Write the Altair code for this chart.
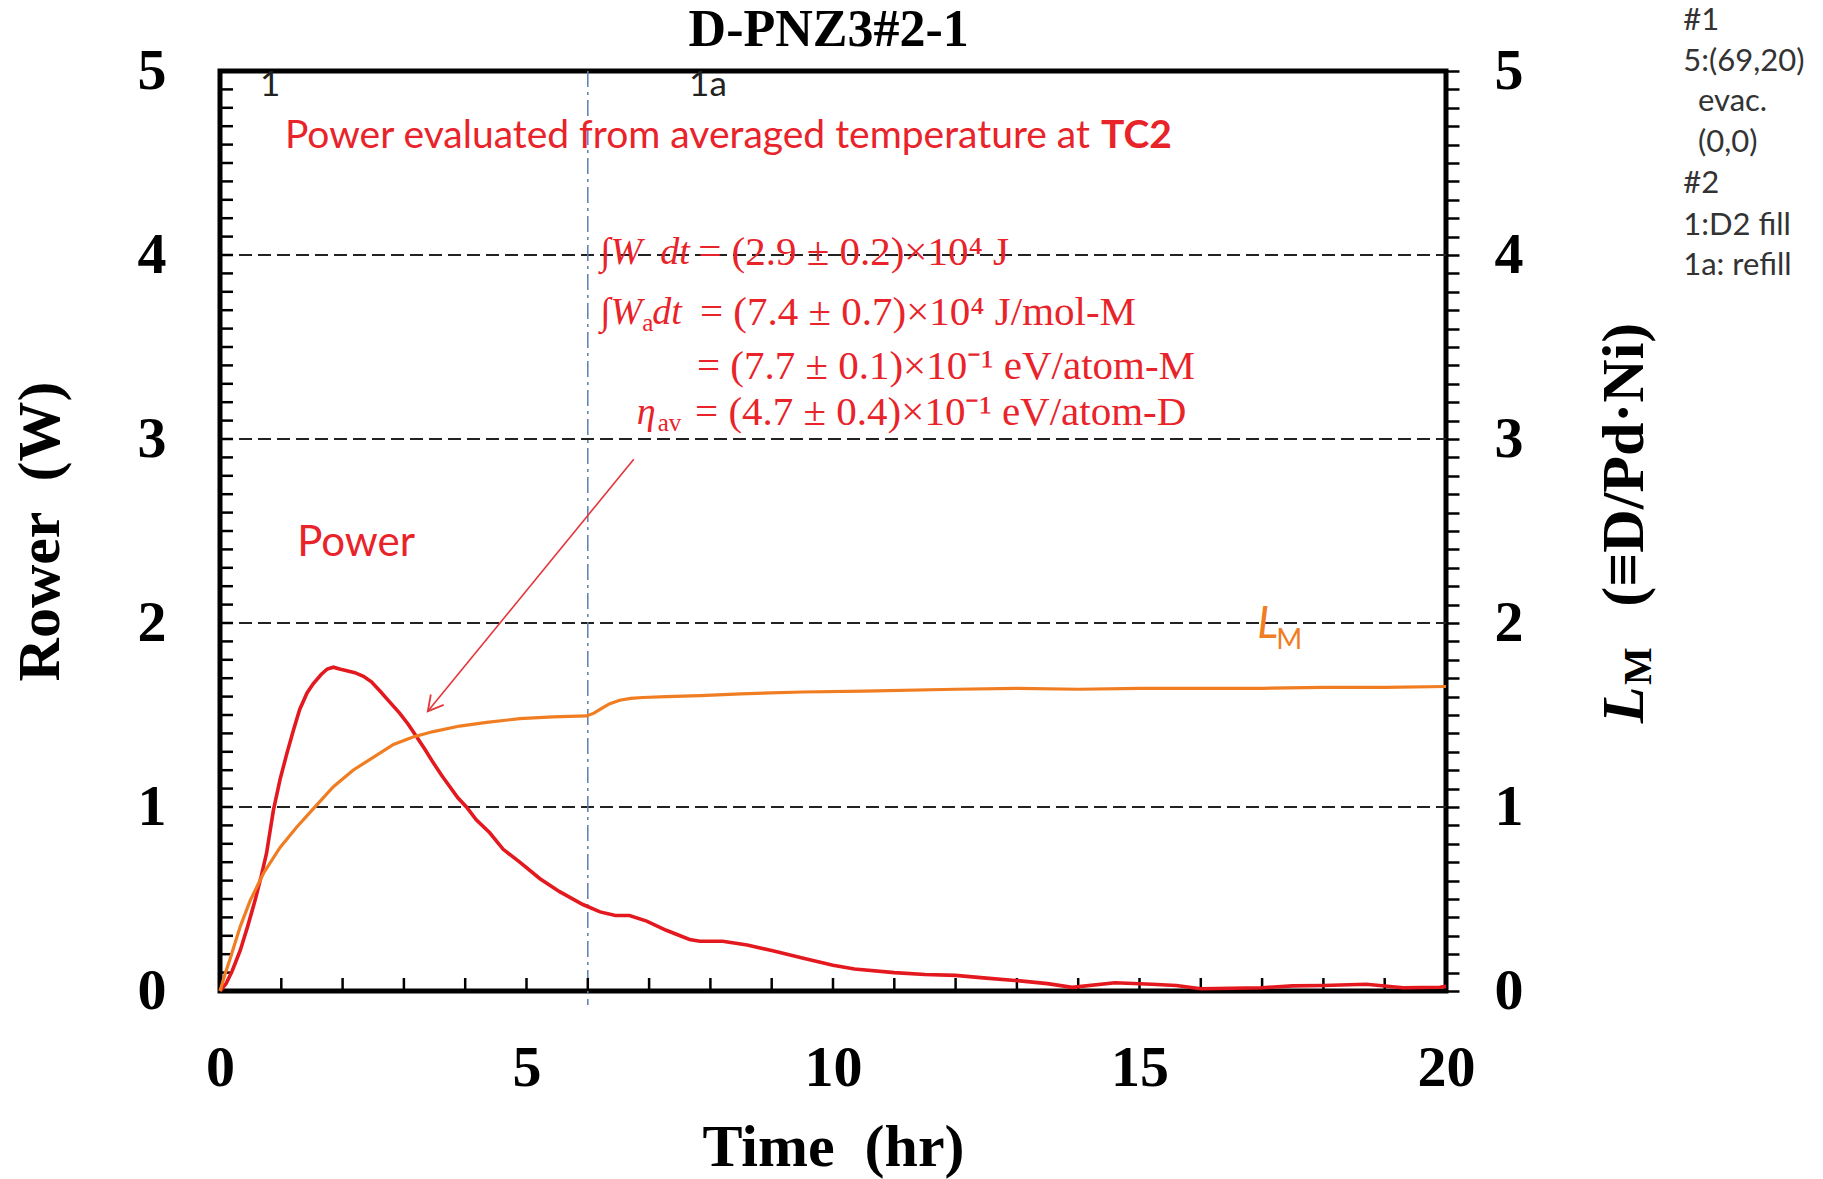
import altair as alt
import pandas as pd

# ---------------- layout ----------------
W, H = 1226, 920
PAD = {"left": 220, "top": 71, "right": 1823 - 220 - W, "bottom": 1179 - 71 - H}

RED = "#e3191f"
ORANGE = "#f07d22"
ARROW = "#e4363a"
TEXT_RED = "#e8232a"
DASHDOT = "#5f7fae"
SERIF = "Liberation Serif"
SANS = "Lato"

# ---------------- data ----------------
power_t = [0, 0.1, 0.2, 0.33, 0.45, 0.57, 0.67, 0.76, 0.87, 0.98, 1.09, 1.2, 1.3, 1.42,
           1.52, 1.65, 1.75, 1.85, 1.95, 2.07, 2.2, 2.34, 2.47, 2.61, 2.77, 2.93, 3.07,
           3.21, 3.35, 3.48, 3.62, 3.75, 3.88, 4.02, 4.18, 4.4, 4.62, 4.89, 5.22, 5.54,
           5.92, 6.2, 6.45, 6.68, 6.96, 7.28, 7.66, 7.83, 8.2, 8.6, 9.0, 9.5, 10.0, 10.35,
           11.0, 11.5, 12.0, 12.5, 13.05, 13.5, 13.9, 14.6, 15.2, 15.6, 16.0, 16.5, 17.0,
           17.5, 18.0, 18.7, 19.3, 19.9, 20.0]
power_w = [0, 0.04, 0.11, 0.22, 0.35, 0.49, 0.62, 0.75, 0.98, 1.15, 1.29, 1.42, 1.53, 1.62,
           1.67, 1.72, 1.75, 1.76, 1.75, 1.74, 1.73, 1.71, 1.68, 1.63, 1.57, 1.51, 1.45,
           1.38, 1.31, 1.24, 1.17, 1.11, 1.05, 1.0, 0.93, 0.86, 0.77, 0.70, 0.61, 0.54,
           0.47, 0.43, 0.41, 0.41, 0.38, 0.33, 0.28, 0.27, 0.27, 0.25, 0.22, 0.18, 0.14, 0.12,
           0.10, 0.09, 0.085, 0.07, 0.055, 0.04, 0.02, 0.045, 0.037, 0.03, 0.012, 0.015, 0.018,
           0.028, 0.03, 0.037, 0.018, 0.02, 0.025]

lm_t = [0, 0.08, 0.16, 0.33, 0.49, 0.71, 0.98, 1.25, 1.52, 1.85, 2.17, 2.5, 2.83, 3.15,
        3.48, 3.91, 4.35, 4.89, 5.43, 5.98, 6.1, 6.2, 6.35, 6.52, 6.7, 6.9, 7.28, 7.83,
        8.5, 9.5, 10.5, 12, 13, 14, 15, 16, 17, 18, 19, 20]
lm_v = [0, 0.09, 0.17, 0.35, 0.49, 0.64, 0.78, 0.89, 0.99, 1.11, 1.20, 1.27, 1.34, 1.38,
        1.41, 1.44, 1.46, 1.48, 1.49, 1.495, 1.51, 1.53, 1.56, 1.58, 1.59, 1.595, 1.60,
        1.605, 1.615, 1.625, 1.63, 1.64, 1.645, 1.64, 1.645, 1.645, 1.645, 1.65, 1.65, 1.655]

grid_levels = [1, 2, 3, 4]
event_time = [6.0]
x_label_values = [0, 5, 10, 15, 20]
y_label_values = [0, 1, 2, 3, 4, 5]
x_minor = list(range(1, 20))
y_minor = [round(i * 0.1, 1) for i in range(51)]

arrow_from = ([6.75], [2.89])
arrow_to = ([3.39], [1.52])

xscale = alt.Scale(domain=[0, 20], nice=False, zero=False)
yscale = alt.Scale(domain=[0, 5], nice=False, zero=False)

# one shared bottom axis, repeated in every layer that encodes x so the merge keeps it
xaxis = alt.Axis(
    values=x_label_values, ticks=False, tickSize=0, domain=False, grid=False,
    labelFont=SERIF, labelFontWeight="bold", labelFontSize=58, labelColor="black",
    labelPadding=94, labelBaseline="alphabetic", labelFlush=False, labelOverlap=False,
    format="d",
    title="Time\u00a0 (hr)", titleFont=SERIF, titleFontWeight="bold", titleFontSize=60,
    titleColor="black", titleX=W / 2, titleY=174, titleAlign="center",
    titleBaseline="alphabetic")


def X(field):
    return alt.X(field, type="quantitative", scale=xscale, axis=xaxis)


def texts(xs, ys, labels, **kw):
    df = pd.DataFrame({"x": xs, "y": ys, "s": labels})
    return alt.Chart(df).mark_text(**kw).encode(
        x=X("x"),
        y=alt.Y("y:Q", scale=yscale, axis=None),
        text="s:N",
    )


grid = alt.Chart(pd.DataFrame({"g": grid_levels})).mark_rule(
    color="#222222", strokeWidth=1.8, strokeDash=[13, 6]
).encode(y=alt.Y("g:Q", scale=yscale, axis=None), x=alt.value(0), x2=alt.value(W))

dashdot = alt.Chart(pd.DataFrame({"e": event_time})).mark_rule(
    color=DASHDOT, strokeWidth=1.5, strokeDash=[16, 5, 3, 5]
).encode(x=X("e"), y=alt.value(0), y2=alt.value(H + 14))

xticks = alt.Chart(pd.DataFrame({"tx": x_minor})).mark_rule(color="black", strokeWidth=2.5).encode(
    x=X("tx"), y=alt.value(H), y2=alt.value(H - 13)
)
yticks = alt.Chart(pd.DataFrame({"ty": y_minor})).mark_rule(color="black", strokeWidth=2.5).encode(
    y=alt.Y("ty:Q", scale=yscale, axis=None), x=alt.value(0), x2=alt.value(13)
)

power_line = alt.Chart(pd.DataFrame({"t": power_t, "P": power_w})).mark_line(
    color=RED, strokeWidth=3.6
).encode(
    x=X("t"),
    y=alt.Y("P:Q", scale=yscale, axis=alt.Axis(
        orient="left", values=y_label_values, ticks=False, tickSize=0, domain=False, grid=False,
        labelFont=SERIF, labelFontWeight="bold", labelFontSize=58, labelColor="black",
        labelPadding=54, labelFlush=False, labelOverlap=False, format="d",
        title="Rower\u00a0 (W)", titleFont=SERIF, titleFontWeight="bold", titleFontSize=60,
        titleColor="black", titleX=-162, titleY=H / 2, titleAngle=270, titleAlign="center",
        titleBaseline="alphabetic")),
)

lm_line = alt.Chart(pd.DataFrame({"t": lm_t, "L": lm_v})).mark_line(
    color=ORANGE, strokeWidth=3.2
).encode(
    x=X("t"),
    y=alt.Y("L:Q", scale=yscale, axis=alt.Axis(
        orient="right", values=y_minor, tickSize=13, tickWidth=2.5, tickColor="black",
        domain=False, grid=False, labelExpr="datum.value % 1 == 0 ? format(datum.value, 'd') : ''",
        labelFont=SERIF, labelFontWeight="bold", labelFontSize=58, labelColor="black",
        labelPadding=35, labelFlush=False, labelOverlap=False, title=None)),
)

arrow_df = pd.DataFrame({"x1": arrow_from[0], "y1": arrow_from[1], "x2": arrow_to[0], "y2": arrow_to[1]})
arrow = alt.Chart(arrow_df).mark_rule(color=ARROW, strokeWidth=1.6).encode(
    x=X("x1"), y=alt.Y("y1:Q", scale=yscale, axis=None),
    x2="x2:Q", y2="y2:Q",
)
head = alt.Chart(arrow_df).mark_point(
    shape="M -0.55 -1 L 0 0 L 0.55 -1", filled=False, color=ARROW, strokeWidth=1.8,
    size=900, angle=39, opacity=1,
).encode(x=X("x2"), y=alt.Y("y2:Q", scale=yscale, axis=None))

# ---------------- texts ----------------
title = texts([9.93], [5.136], ["D-PNZ3#2-1"], font=SERIF, fontWeight="bold", fontSize=52,
              color="black", align="center", baseline="alphabetic")
events = texts([0.82, 7.96], [4.924, 4.924], ["1", "1a"], font=SANS, fontSize=35,
               color="#222222", align="center", baseline="middle")
header = texts([1.06], [4.647], ["Power evaluated from averaged temperature at"], font=SANS,
               fontSize=39, color=TEXT_RED, align="left", baseline="middle")
header_b = texts([15.53], [4.647], ["TC2"], font=SANS, fontSize=39, fontWeight="bold",
                 color=TEXT_RED, align="right", baseline="middle")
power_lbl = texts([1.26], [2.435], ["Power"], font=SANS, fontSize=42, color=TEXT_RED,
                  align="left", baseline="middle")
lm_L = texts([16.92], [1.99], ["L"], font=SANS, fontSize=44, fontStyle="italic", color=ORANGE,
             align="left", baseline="middle")
lm_M = texts([17.23], [1.90], ["M"], font=SANS, fontSize=28, color=ORANGE, align="left",
             baseline="middle")

f_it = texts([6.20, 7.18, 6.20, 7.05, 6.80],
             [4.01, 4.01, 3.685, 3.685, 3.14],
             ["\u222bW", "dt", "\u222bW", "dt", "\u03b7"],
             font=SERIF, fontSize=38, fontStyle="italic", color=TEXT_RED, align="left",
             baseline="middle")
f_sub = texts([6.89, 7.14], [3.63, 3.085], ["a", "av"], font=SERIF, fontSize=25, color=TEXT_RED,
              align="left", baseline="middle")
f_main = texts([7.80, 7.83, 7.78, 7.75], [4.01, 3.685, 3.39, 3.14],
               ["= (2.9 \u00b1 0.2)\u00d710\u2074 J",
                "= (7.4 \u00b1 0.7)\u00d710\u2074 J/mol-M",
                "= (7.7 \u00b1 0.1)\u00d710\u207b\u00b9 eV/atom-M",
                "= (4.7 \u00b1 0.4)\u00d710\u207b\u00b9 eV/atom-D"],
               font=SERIF, fontSize=41, color=TEXT_RED, align="left", baseline="middle")

notes = texts([23.87, 23.87, 24.11, 24.11, 23.87, 23.87, 23.87],
              [5.272, 5.049, 4.832, 4.609, 4.386, 4.158, 3.940],
              ["#1", "5:(69,20)", "evac.", "(0,0)", "#2", "1:D2 fill", "1a: refill"],
              font=SANS, fontSize=31, color="#333333", align="left", baseline="middle")

r_title = texts([23.21], [2.86], ["(\u2261D/Pd\u00b7Ni)"], font=SERIF, fontWeight="bold",
                fontSize=60, color="black", align="center", baseline="alphabetic", angle=270)
r_L = texts([23.21], [1.555], ["L"], font=SERIF, fontWeight="bold", fontStyle="italic",
            fontSize=60, color="black", align="center", baseline="alphabetic", angle=270)
r_M = texts([23.34], [1.766], ["M"], font=SERIF, fontWeight="bold", fontSize=40,
            color="black", align="center", baseline="alphabetic", angle=270)

chart = alt.layer(
    grid, dashdot, xticks, yticks, arrow, head, power_line, lm_line,
    title, events, header, header_b, power_lbl, lm_L, lm_M, f_it, f_sub, f_main, notes,
    r_title, r_L, r_M,
).resolve_scale(y="independent").properties(
    width=W, height=H, padding=PAD, autosize=alt.AutoSizeParams(type="none"),
    background="white",
).configure_view(stroke="black", strokeWidth=5)

chart.save("out.html", embed_options={"renderer": "svg", "actions": False})
